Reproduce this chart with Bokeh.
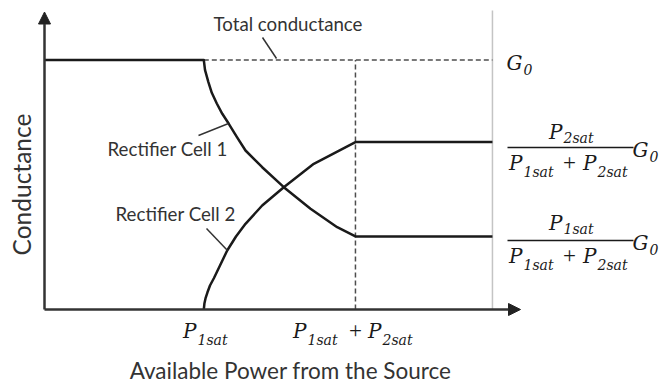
import math

from bokeh.embed import file_html
from bokeh.models import Arrow, Label, NormalHead, Range1d
from bokeh.plotting import figure
from bokeh.resources import INLINE

# Power axis in units of P1sat, conductance axis in units of G0
p1_sat = 1.0          # P_1sat
p_total_sat = 1.952   # P_1sat + P_2sat
p_limit = 2.812       # right-hand boundary of the operating range
g0 = 1.0              # total conductance G_0
g_high = 0.671        # P_2sat / (P_1sat + P_2sat) * G_0
g_low = 0.293         # P_1sat / (P_1sat + P_2sat) * G_0

# Rectifier cell 1: flat at G0 until P1sat, then falls to g_low
cell1_power = [0.0, 1.0, 1.0075, 1.0283, 1.0502, 1.0816, 1.1161, 1.1569, 1.2072,
               1.2618, 1.3666, 1.5022, 1.6698, 1.8374, 1.952, 2.812]
cell1_cond = [1.0, 1.0, 0.9607, 0.9126, 0.8685, 0.8257, 0.7844, 0.7443, 0.6922,
              0.6373, 0.5703, 0.4902, 0.4038, 0.3299, 0.293, 0.293]

# Rectifier cell 2: off until P1sat, then rises to g_high
cell2_power = [1.0, 1.0038, 1.0107, 1.0226, 1.0389, 1.0640, 1.1017, 1.1469, 1.2021,
               1.2618, 1.3666, 1.5022, 1.6905, 1.952, 2.812]
cell2_cond = [0.0, 0.0240, 0.0441, 0.0681, 0.0962, 0.1263, 0.1764, 0.2365, 0.2926,
              0.3435, 0.4168, 0.4902, 0.5840, 0.671, 0.671]

W, H = 666, 383
ORIGIN_X, ORIGIN_Y = 44, 309      # canvas position of the origin
X_SCALE, Y_SCALE = 159.3, 249.5   # pixels per unit on each axis

INK = "#1a1a1a"
TEXT = "#333333"
DASH = "#4d4d4d"
SANS = "Lato"
SERIF = "DejaVu Serif"
CAP_MID = 0.36   # half the cap height, as a fraction of the font size


def hx(px):
    """Canvas x (pixels) to data x, for placing annotations."""
    return (px - ORIGIN_X) / X_SCALE


def vy(py):
    """Canvas y (pixels from the top) to data y."""
    return (ORIGIN_Y - py) / Y_SCALE


p = figure(
    width=W, height=H,
    output_backend="svg", toolbar_location=None,
    x_range=Range1d(hx(0), hx(W)), y_range=Range1d(vy(H), vy(0)),
    x_axis_type=None, y_axis_type=None,
    min_border=0, outline_line_color=None,
    background_fill_color="white", border_fill_color="white",
)
p.grid.visible = False

# boundary of the operating range
p.line([p_limit, p_limit], [0, vy(10)], line_color="#c4c4c4", line_width=1.5)

# total conductance and the saturation point of both cells
p.line([p1_sat, p_limit], [g0, g0], line_color=DASH, line_width=1.5, line_dash="5 3")
p.line([p_total_sat, p_total_sat], [0, g0], line_color=DASH, line_width=1.5, line_dash="5 3")

# the two rectifier cells
p.line(cell1_power, cell1_cond, line_color=INK, line_width=2.5, line_join="round")
p.line(cell2_power, cell2_cond, line_color=INK, line_width=2.5, line_join="round")

# axes with arrow heads
for xe, ye in ((hx(520), 0), (0, vy(11.5))):
    p.add_layout(Arrow(
        end=NormalHead(size=12, fill_color="#222222", line_color="#222222", line_width=1),
        x_start=0, y_start=0, x_end=xe, y_end=ye,
        line_color="#333333", line_width=2.5,
    ))

# leader lines from labels to curves
p.segment(
    x0=[hx(262), hx(198), hx(206)], y0=[vy(37), vy(135), vy(228)],
    x1=[hx(276), hx(228), hx(227)], y1=[vy(58), vy(123), vy(250)],
    line_color=TEXT, line_width=1.5,
)


def text(x_px, base_py, s, size, **kw):
    """Sans label whose capitals sit on the baseline base_py."""
    p.add_layout(Label(
        x=hx(x_px), y=vy(base_py - CAP_MID * size), text=s, text_font=SANS,
        text_font_size=f"{size}px", text_color=TEXT, text_baseline="middle", **kw,
    ))


text(213, 30, "Total conductance", 18.7)
text(107, 155, "Rectifier Cell 1", 18.7)
text(115, 220.5, "Rectifier Cell 2", 18.7)
text(290, 378.5, "Available Power from the Source", 22.5, text_align="center")
p.add_layout(Label(
    x=hx(21), y=vy(184), text="Conductance", text_font=SANS, text_font_size="24.5px",
    text_color=TEXT, text_align="center", text_baseline="middle", angle=math.pi / 2,
))


def glyph(x_px, base_py, s, size, align, italic=True, font=SERIF):
    p.add_layout(Label(
        x=hx(x_px), y=vy(base_py - CAP_MID * size), text=s, text_font=font,
        text_font_style="italic" if italic else "normal",
        text_font_size=f"{size}px", text_align=align,
        text_baseline="middle", text_color=INK,
    ))


def term(split_px, base_py, sym, sub, size=20, sub_size=14, drop=7):
    """Italic symbol with a subscript, split at split_px."""
    glyph(split_px, base_py, sym, size, "right")
    glyph(split_px + 1, base_py + drop, sub, sub_size, "left")


def sum_term(left_split, plus_x, right_split, base_py):
    term(left_split, base_py, "P", "1sat")
    glyph(plus_x, base_py, "+", 23, "center", italic=False, font="Liberation Serif")
    term(right_split, base_py, "P", "2sat")


# power axis labels
term(196, 338, "P", "1sat")
sum_term(306, 355, 381, 338)

# conductance levels on the right
term(522, 70, "G", "0", drop=4)

term(562, 139, "P", "2sat", drop=4)
sum_term(522, 569, 596, 170)
term(648, 157, "G", "0", drop=4)

term(562, 230, "P", "1sat", drop=4)
sum_term(522, 569, 596, 263)
term(648, 250, "G", "0", drop=4)

p.segment(x0=[hx(507), hx(507)], y0=[vy(147), vy(240)],
          x1=[hx(633), hx(633)], y1=[vy(147), vy(240)],
          line_color=INK, line_width=1.5)

open("out.html", "w").write(file_html(p, INLINE))
